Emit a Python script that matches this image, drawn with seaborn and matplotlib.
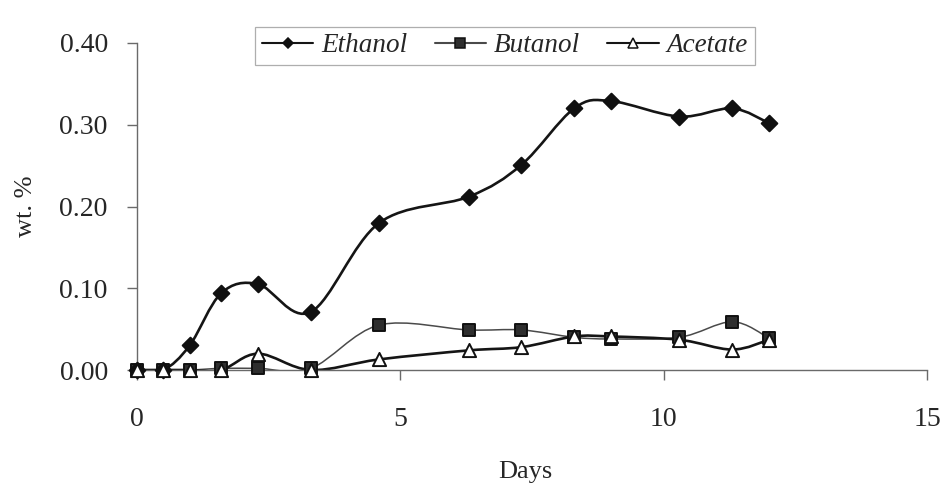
import numpy as np
import pandas as pd
import matplotlib
matplotlib.use("Agg")
import matplotlib.pyplot as plt
import seaborn as sns
from matplotlib.path import Path
from matplotlib.patches import PathPatch
from matplotlib.lines import Line2D

# Sampling days and measured concentrations (wt. %)
days = [0.0, 0.5, 1.0, 1.6, 2.3, 3.3, 4.6, 6.3, 7.3, 8.3, 9.0, 10.3, 11.3, 12.0]
ethanol = [0.000, 0.000, 0.030, 0.094, 0.105, 0.071, 0.180, 0.212, 0.251, 0.320,
           0.329, 0.310, 0.320, 0.302]
butanol = [0.000, 0.000, 0.000, 0.002, 0.002, 0.002, 0.055, 0.049, 0.049, 0.040,
           0.038, 0.040, 0.059, 0.039]
acetate = [0.000, 0.000, 0.000, 0.000, 0.020, 0.000, 0.013, 0.024, 0.028, 0.041,
           0.041, 0.037, 0.025, 0.037]

series_names = ["Ethanol", "Butanol", "Acetate"]
x_ticks = [0, 5, 10, 15]
y_ticks = [0.00, 0.10, 0.20, 0.30, 0.40]

df = pd.DataFrame({"Days": days, "Ethanol": ethanol,
                   "Butanol": butanol, "Acetate": acetate})
long = df.melt(id_vars="Days", var_name="Compound", value_name="wt")

sns.set_style("white")
plt.rcParams["font.family"] = ["Liberation Serif", "DejaVu Serif"]

fig = plt.figure(figsize=(9.45, 4.97), dpi=100)
ax = fig.add_axes([137 / 945, 1 - 370 / 497, 790 / 945, 327 / 497])

styles = {
    "Ethanol": dict(line="#151515", lw=1.9, marker="D", ms=8.0, mfc="#101010",
                    mec="#101010", lms=5.5),
    "Butanol": dict(line="#4a4a4a", lw=1.1, marker="s", ms=9.0, mfc="#2e2e2e",
                    mec="#111111", lms=6.5),
    "Acetate": dict(line="#151515", lw=1.9, marker="^", ms=9.5, mfc="white",
                    mec="#111111", lms=6.5),
}


def smooth_path(xs, ys):
    """Bezier path through the points, with Excel-style smoothing tangents."""
    pts = np.column_stack([xs, ys]).astype(float)
    n = len(pts)
    verts = [pts[0]]
    codes = [Path.MOVETO]
    for i in range(n - 1):
        p0 = pts[i - 1] if i > 0 else pts[i]
        p1 = pts[i]
        p2 = pts[i + 1]
        p3 = pts[i + 2] if i + 2 < n else pts[i + 1]
        c1 = p1 + (p2 - p0) / 6.0
        c2 = p2 - (p3 - p1) / 6.0
        verts += [c1, c2, p2]
        codes += [Path.CURVE4] * 3
    return Path(verts, codes)


# smoothed connecting curves, drawn under the markers
for name in ["Butanol", "Acetate", "Ethanol"]:
    st = styles[name]
    patch = PathPatch(smooth_path(df["Days"], df[name]), facecolor="none",
                      edgecolor=st["line"], lw=st["lw"], zorder=2,
                      capstyle="round", joinstyle="round")
    ax.add_patch(patch)

# markers at each measurement
for name in ["Butanol", "Ethanol", "Acetate"]:
    st = styles[name]
    sub = long[long["Compound"] == name]
    sns.scatterplot(data=sub, x="Days", y="wt", ax=ax, marker=st["marker"],
                    s=st["ms"] ** 2, color=st["mfc"], edgecolor=st["mec"],
                    linewidth=1.4, zorder=3, clip_on=False, legend=False)

ax.set_xlim(0, 15)
ax.set_ylim(0, 0.40)
ax.set_xticks(x_ticks)
ax.set_yticks(y_ticks)
ax.set_yticklabels([f"{v:.2f}" for v in y_ticks])
ax.set_xticklabels([str(v) for v in x_ticks])

for side in ["top", "right"]:
    ax.spines[side].set_visible(False)
for side in ["left", "bottom"]:
    ax.spines[side].set_color("#6a6a6a")
    ax.spines[side].set_linewidth(1.0)

ax.tick_params(axis="y", direction="out", length=7, width=1.0, color="#6a6a6a",
               labelsize=20, pad=14, left=True)
ax.tick_params(axis="x", direction="out", length=7, width=1.0, color="#6a6a6a",
               labelsize=20, pad=20, bottom=True)

ax.set_xlabel("Days", fontsize=19, va="center")
ax.xaxis.set_label_coords((525 - 137) / 790, (370 - 472) / 327)
ax.set_ylabel("wt. %", fontsize=19, va="center")
ax.yaxis.set_label_coords((26 - 137) / 790, 0.5)

handles = []
for name in series_names:
    st = styles[name]
    handles.append(Line2D([], [], color=st["line"], lw=1.5, marker=st["marker"],
                          markersize=st["lms"], markerfacecolor=st["mfc"],
                          markeredgecolor=st["mec"], markeredgewidth=1.1))
leg = fig.legend(handles, series_names, loc="upper center",
                 bbox_to_anchor=(505 / 945, 1 - 13 / 497), ncol=3,
                 frameon=True, fancybox=False, edgecolor="#9a9a9a",
                 prop={"style": "italic", "size": 19.5}, handlelength=1.9,
                 handletextpad=0.3, columnspacing=1.0, borderpad=0.25)
leg.get_frame().set_linewidth(0.9)

fig.savefig("out.png", dpi=100, facecolor="white")
